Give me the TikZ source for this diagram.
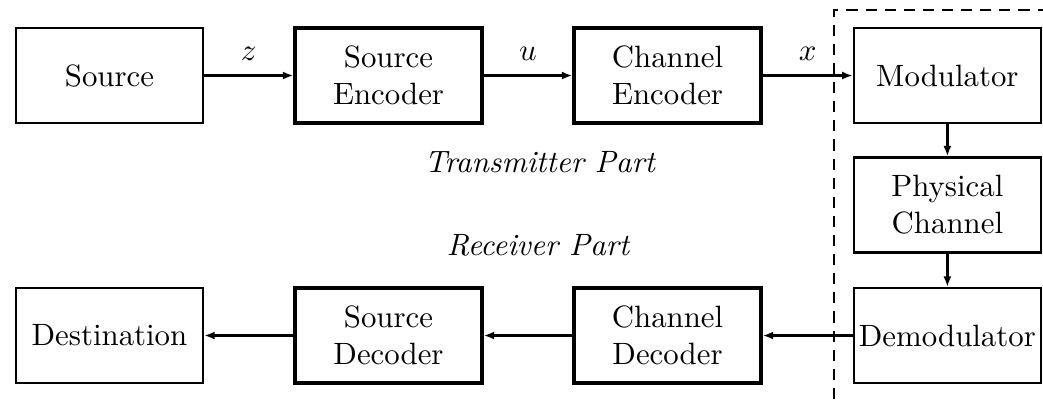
\documentclass[tikz,border=0pt]{standalone}
\usepackage{amsmath}
\usetikzlibrary{calc, arrows.meta}

\begin{document}
\begin{tikzpicture}[
            blk/.style={draw, line width=0.85pt, minimum width=2.13cm, minimum height=1.08cm, align=center, inner sep=1pt},
            coder/.style={blk, line width=1.15pt},
            link/.style={line width=0.8pt, -{Latex[length=3.4pt,width=2.6pt]}},
            border/.style={line width=0.85pt, dash pattern=on 3.6pt off 2.6pt}]
            \useasboundingbox (0,0) rectangle (11.89,4.549);
            \node[blk] (src) at (1.248,3.688) {Source};
            \node[coder] (senc) at (4.429,3.688) {Source\\Encoder};
            \node[coder] (cenc) at (7.610,3.688) {Channel\\Encoder};
            \node[blk] (mod) at (10.80,3.688) {Modulator};
            \node[blk] (phys) at (10.80,2.212) {Physical\\Channel};
            \node[blk] (demod) at (10.80,0.724) {Demodulator};
            \node[coder] (cdec) at (7.610,0.724) {Channel\\Decoder};
            \node[coder] (sdec) at (4.429,0.724) {Source\\Decoder};
            \node[blk] (dest) at (1.248,0.724) {Destination};
            \draw[link] (src)--(senc) node[midway, above=1pt]{\(z\)};
            \draw[link] (senc)--(cenc) node[midway, above=1pt]{\(u\)};
            \draw[link] (cenc)--(mod) node[midway, above=1pt]{\(x\)};
            \draw[link] (mod)--(phys);
            \draw[link] (phys)--(demod);
            \draw[link] (demod)--(cdec);
            \draw[link] (cdec)--(sdec);
            \draw[link] (sdec)--(dest);
            \node (tx) at (6.16,2.70) {\textit{Transmitter Part}};
            \node (rx) at (6.14,1.756) {\textit{Receiver Part}};
            \coordinate (cornerA) at (9.508,0);
            \coordinate (cornerB) at (9.508,4.435);
            \coordinate (cornerC) at (11.89,4.435);
            \draw[border] (cornerA)--(cornerB)--(cornerC);
        \end{tikzpicture}
\end{document}
